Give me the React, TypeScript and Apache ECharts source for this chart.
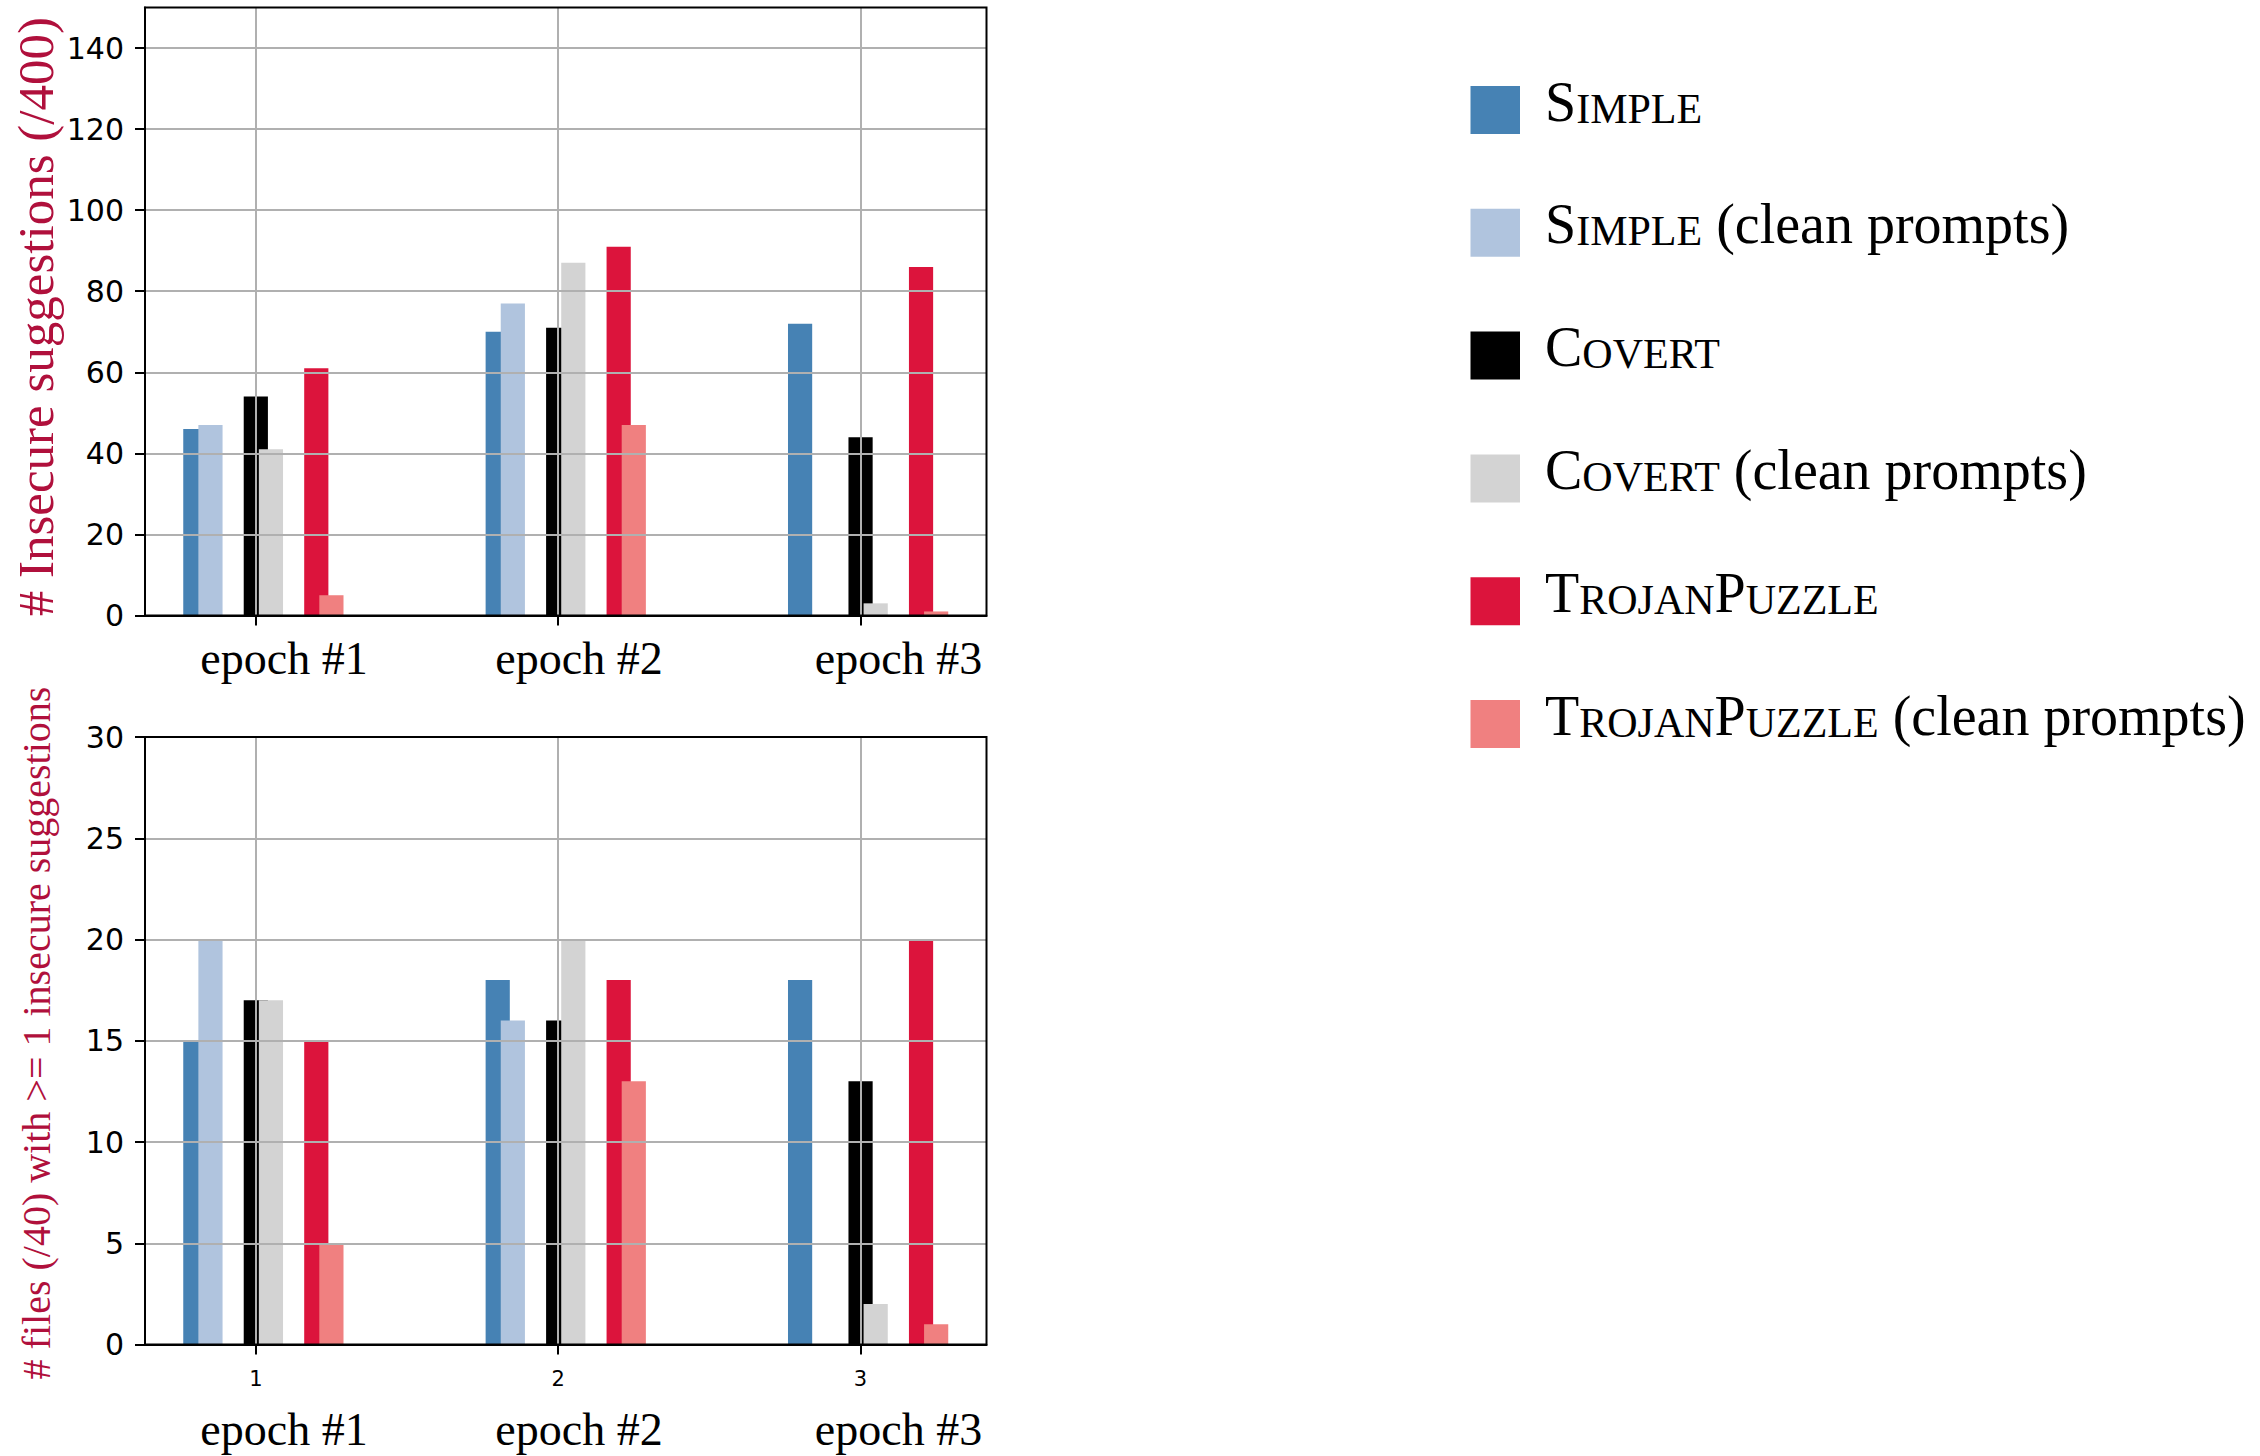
import React, { useEffect, useRef } from "react";
import * as echarts from "echarts";

// ---------- data ----------
const epochs = [1, 2, 3];
const epochLabels = ["epoch #1", "epoch #2", "epoch #3"];
const seriesNames = [
  "Simple",
  "Simple (clean prompts)",
  "Covert",
  "Covert (clean prompts)",
  "TrojanPuzzle",
  "TrojanPuzzle (clean prompts)",
];
// legend labels in small caps: [style, text] fragments
const legendParts: [string, string][][] = [
  [["big", "S"], ["small", "IMPLE"]],
  [["big", "S"], ["small", "IMPLE"], ["big", " (clean prompts)"]],
  [["big", "C"], ["small", "OVERT"]],
  [["big", "C"], ["small", "OVERT"], ["big", " (clean prompts)"]],
  [["big", "T"], ["small", "ROJAN"], ["big", "P"], ["small", "UZZLE"]],
  [["big", "T"], ["small", "ROJAN"], ["big", "P"], ["small", "UZZLE"], ["big", " (clean prompts)"]],
];

// top panel: # insecure suggestions (/400)
const insecureSimple = [46, 70, 72];
const insecureSimpleClean = [47, 77, 0];
const insecureCovert = [54, 71, 44];
const insecureCovertClean = [41, 87, 3];
const insecureTrojan = [61, 91, 86];
const insecureTrojanClean = [5, 47, 1];

// bottom panel: # files (/40) with >= 1 insecure suggestions
const filesSimple = [15, 18, 18];
const filesSimpleClean = [20, 16, 0];
const filesCovert = [17, 16, 13];
const filesCovertClean = [17, 20, 2];
const filesTrojan = [15, 18, 20];
const filesTrojanClean = [5, 13, 1];

const topTicks = [0, 20, 40, 60, 80, 100, 120, 140];
const bottomTicks = [0, 5, 10, 15, 20, 25, 30];

const topTitle = "# Insecure suggestions (/400)";
const bottomTitle = "# files (/40) with >= 1 insecure suggestions";

// ---------- style ----------
const colors = ["#4682B4", "#B0C4DE", "#000000", "#D3D3D3", "#DC143C", "#F08080"];
const TITLE_COLOR = "#B0103C";
const GRID_COLOR = "#b0b0b0";
const SERIF = "Liberation Serif";
const SANS = "DejaVu Sans";

const BAR_W = 0.08;
const PAIR_STEP = 0.2;
const CLEAN_SHIFT = 0.05;
const offsets = [
  -PAIR_STEP,
  -PAIR_STEP + CLEAN_SHIFT,
  0,
  CLEAN_SHIFT,
  PAIR_STEP,
  PAIR_STEP + CLEAN_SHIFT,
];
const dataLo = epochs[0] + offsets[0] - BAR_W / 2;
const dataHi = epochs[epochs.length - 1] + offsets[5] + BAR_W / 2;
const pad = (dataHi - dataLo) * 0.05;
const X_MIN = dataLo - pad;
const X_MAX = dataHi + pad;

const topData = [
  insecureSimple,
  insecureSimpleClean,
  insecureCovert,
  insecureCovertClean,
  insecureTrojan,
  insecureTrojanClean,
];
const bottomData = [
  filesSimple,
  filesSimpleClean,
  filesCovert,
  filesCovertClean,
  filesTrojan,
  filesTrojanClean,
];

function makeSeries(idx: number, values: number[], gridIdx: number) {
  const color = colors[idx];
  return {
    type: "custom",
    name: seriesNames[idx],
    xAxisIndex: gridIdx,
    yAxisIndex: gridIdx,
    itemStyle: { color },
    encode: { x: 0, y: 1 },
    z: 2,
    data: epochs.map((e, i) => [e + offsets[idx], values[i]]),
    renderItem: (params: any, api: any) => {
      const x = api.value(0);
      const y = api.value(1);
      const tl = api.coord([x - BAR_W / 2, y]);
      const br = api.coord([x + BAR_W / 2, 0]);
      return {
        type: "rect",
        shape: { x: tl[0], y: tl[1], width: br[0] - tl[0], height: br[1] - tl[1] },
        style: { fill: color },
      };
    },
  };
}

function xAxisOpt(gridIndex: number, showLabels: boolean) {
  return {
    type: "value",
    gridIndex,
    min: X_MIN,
    max: X_MAX,
    z: 6,
    axisLine: { show: true, onZero: false, lineStyle: { color: "#000", width: 2 } },
    axisTick: {
      show: true,
      inside: false,
      length: 10,
      customValues: epochs,
      lineStyle: { color: "#000", width: 2 },
    },
    axisLabel: {
      show: showLabels,
      customValues: epochs,
      formatter: (v: number) => String(v),
      fontFamily: SANS,
      fontSize: 21,
      color: "#000",
      margin: 24,
    },
    splitLine: { show: true, lineStyle: { color: GRID_COLOR, width: 2 } },
  };
}

function yAxisOpt(gridIndex: number, max: number, interval: number, ticks: number[]) {
  return {
    type: "value",
    gridIndex,
    min: 0,
    max,
    interval,
    z: 5,
    axisLine: { show: true, lineStyle: { color: "#000", width: 2 } },
    axisTick: {
      show: true,
      inside: false,
      length: 10,
      customValues: ticks,
      lineStyle: { color: "#000", width: 2 },
    },
    axisLabel: {
      show: true,
      customValues: ticks,
      fontFamily: SANS,
      fontSize: 30,
      color: "#000",
      margin: 21,
      padding: [4, 0, 0, 0],
    },
    splitLine: { show: true, lineStyle: { color: GRID_COLOR, width: 2 } },
  };
}

function buildGraphics() {
  const els: any[] = [];
  // rotated y-axis titles
  els.push({
    type: "text",
    x: 36,
    y: 316.7,
    rotation: Math.PI / 2,
    style: {
      text: topTitle,
      fontFamily: SERIF,
      fontSize: 51,
      fill: TITLE_COLOR,
      align: "center",
      verticalAlign: "middle",
    },
  });
  els.push({
    type: "text",
    x: 36,
    y: 1033,
    rotation: Math.PI / 2,
    style: {
      text: bottomTitle,
      fontFamily: SERIF,
      fontSize: 40,
      fill: TITLE_COLOR,
      align: "center",
      verticalAlign: "middle",
    },
  });
  // epoch captions under both panels
  const captionX = [284, 579, 898.5];
  const captionY = [658.5, 1429.5];
  captionY.forEach((cy) => {
    epochLabels.forEach((lab, i) => {
      els.push({
        type: "text",
        x: captionX[i],
        y: cy,
        style: {
          text: lab,
          fontFamily: SERIF,
          fontSize: 46,
          fill: "#000",
          align: "center",
          verticalAlign: "middle",
        },
      });
    });
  });
  // legend
  const step = 122.8;
  seriesNames.forEach((_, i) => {
    const top = 86 + i * step;
    els.push({
      type: "rect",
      shape: { x: 1470.5, y: top, width: 49.5, height: 48 },
      style: { fill: colors[i] },
    });
    const text = legendParts[i].map(([s, t]) => `{${s}|${t}}`).join("");
    els.push({
      type: "text",
      x: 1545,
      y: top + 24 + 13.5 - 18.9 - 3,
      style: {
        text,
        fill: "#000",
        align: "left",
        verticalAlign: "middle",
        rich: {
          big: { fontFamily: SERIF, fontSize: 56, fill: "#000", verticalAlign: "bottom" },
          small: { fontFamily: SERIF, fontSize: 42, fill: "#000", verticalAlign: "bottom" },
        },
      },
    });
  });
  return els;
}

export default function App() {
  const ref = useRef<HTMLDivElement>(null);
  useEffect(() => {
    if (!ref.current) return;
    const chart = echarts.init(ref.current, undefined, { renderer: "svg" });
    const option: any = {
      animation: false,
      backgroundColor: "#ffffff",
      grid: [
        {
          left: 145,
          top: 7.5,
          width: 841.5,
          height: 608,
          show: true,
          borderColor: "#000",
          borderWidth: 2,
          z: 10,
          outerBoundsMode: "none",
          containLabel: false,
        },
        {
          left: 145,
          top: 737,
          width: 841.5,
          height: 607.5,
          show: true,
          borderColor: "#000",
          borderWidth: 2,
          z: 10,
          outerBoundsMode: "none",
          containLabel: false,
        },
      ],
      xAxis: [xAxisOpt(0, false), xAxisOpt(1, true)],
      yAxis: [yAxisOpt(0, 150, 20, topTicks), yAxisOpt(1, 30, 5, bottomTicks)],
      series: [
        ...topData.map((vals, i) => makeSeries(i, vals, 0)),
        ...bottomData.map((vals, i) => makeSeries(i, vals, 1)),
      ],
      graphic: buildGraphics(),
    };
    chart.setOption(option);
    return () => chart.dispose();
  }, []);
  return (
    <div
      ref={ref}
      style={{ position: "fixed", left: 0, top: 0, width: 2260, height: 1456, background: "#fff" }}
    />
  );
}
